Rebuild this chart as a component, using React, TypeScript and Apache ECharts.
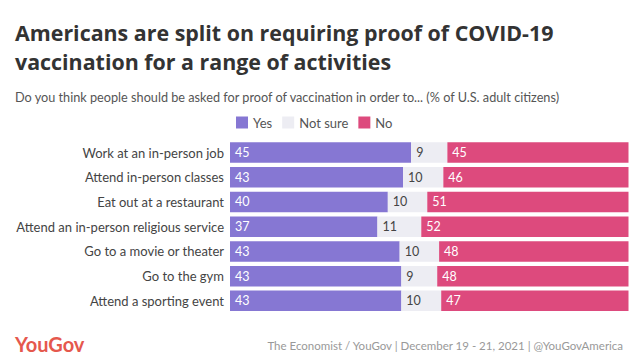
import React, { useEffect, useRef } from "react";
import * as echarts from "echarts";

const categories = [
  "Work at an in-person job",
  "Attend in-person classes",
  "Eat out at a restaurant",
  "Attend an in-person religious service",
  "Go to a movie or theater",
  "Go to the gym",
  "Attend a sporting event",
];
const yesValues = [45, 43, 40, 37, 43, 43, 43];
const notSureValues = [9, 10, 10, 11, 10, 9, 10];
const noValues = [45, 46, 51, 52, 48, 48, 47];

const FONT = "Lato, 'Open Sans', sans-serif";
const TFONT = "'Open Sans', Lato, sans-serif";

export default function App() {
  const ref = useRef<HTMLDivElement>(null);
  useEffect(() => {
    if (!ref.current) return;
    const chart = echarts.init(ref.current, undefined, { renderer: "svg" });
    const totals = categories.map((_, i) => yesValues[i] + notSureValues[i] + noValues[i]);
    const mk = (vals: number[]) =>
      vals.map((v, i) => ({ value: (v / totals[i]) * 100, raw: v }));
    const labelFmt = (p: any) => String(p.data.raw);
    const series = [
      { name: "Yes", vals: yesValues, color: "#8677d3", lc: "#ffffff" },
      { name: "Not sure", vals: notSureValues, color: "#ededf3", lc: "#444444" },
      { name: "No", vals: noValues, color: "#dd4a7d", lc: "#ffffff" },
    ].map((s) => ({
      name: s.name,
      type: "bar",
      stack: "total",
      barWidth: 20.5,
      data: mk(s.vals),
      itemStyle: { color: s.color },
      label: {
        show: true,
        position: "insideLeft",
        distance: 5,
        formatter: labelFmt,
        color: s.lc,
        fontSize: 12.5,
        fontFamily: FONT,
      },
      emphasis: { disabled: true },
    }));
    chart.setOption({
      animation: false,
      title: [
        {
          text: "Americans are split on requiring proof of COVID-19\nvaccination for a range of activities",
          left: 10,
          top: 13,
          textStyle: {
            fontFamily: TFONT,
            fontWeight: "bold",
            fontSize: 21.4,
            lineHeight: 29,
            color: "#333333",
          },
        },
        {
          text: "Do you think people should be asked for proof of vaccination in order to... (% of U.S. adult citizens)",
          left: 10,
          top: 84,
          textStyle: {
            fontFamily: FONT,
            fontWeight: "normal",
            fontSize: 12.7,
            lineHeight: 15,
            color: "#555555",
          },
        },
        {
          text: "YouGov",
          left: 10,
          top: 328,
          textStyle: {
            fontFamily: FONT,
            fontWeight: "bold",
            fontSize: 20,
            lineHeight: 22,
            color: "#e5584d",
          },
        },
        {
          text: "The Economist / YouGov | December 19 - 21, 2021 | @YouGovAmerica",
          right: 11,
          top: 333,
          textStyle: {
            fontFamily: FONT,
            fontWeight: "normal",
            fontSize: 11.5,
            lineHeight: 15,
            color: "#999999",
          },
        },
      ],
      legend: {
        left: 236,
        top: 116,
        padding: 0,
        itemWidth: 12,
        itemHeight: 12,
        itemGap: 10,
        icon: "rect",
        selectedMode: false,
        textStyle: { fontFamily: FONT, fontSize: 13, color: "#555555", padding: [0, 0, 0, 0] },
        data: ["Yes", "Not sure", "No"],
      },
      grid: { left: 230, right: 11.5, top: 140.2, bottom: 48.8, containLabel: false },
      xAxis: { type: "value", min: 0, max: 100, show: false },
      yAxis: {
        type: "category",
        data: categories,
        inverse: true,
        axisLine: { show: false },
        axisTick: { show: false },
        splitLine: { show: false },
        axisLabel: { fontFamily: FONT, fontSize: 13, color: "#444444", margin: 6 },
      },
      series,
    });
    return () => chart.dispose();
  }, []);
  return <div ref={ref} style={{ width: 640, height: 362, position: "fixed", left: 0, top: 0, background: "#fff" }} />;
}
